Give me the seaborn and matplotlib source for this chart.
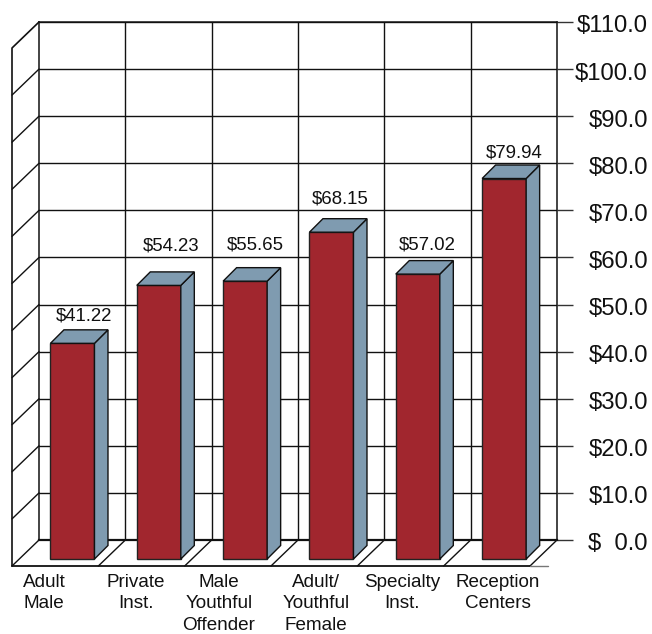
import pandas as pd
import seaborn as sns
import matplotlib.pyplot as plt
from matplotlib.patches import Polygon
from matplotlib.transforms import Affine2D

categories = ['Adult\nMale', 'Private\nInst.', 'Male\nYouthful\nOffender',
              'Adult/\nYouthful\nFemale', 'Specialty\nInst.', 'Reception\nCenters']
bar_heights = [45.8, 58.1, 59.0, 69.4, 60.5, 80.8]
value_labels = ['$41.22', '$54.23', '$55.65', '$68.15', '$57.02', '$79.94']
y_ticks = [0, 10, 20, 30, 40, 50, 60, 70, 80, 90, 100, 110]
y_tick_labels = ['$  0.0', '$10.0', '$20.0', '$30.0', '$40.0', '$50.0',
                 '$60.0', '$70.0', '$80.0', '$90.0', '$100.0', '$110.0']

# layout, in pixels (dpi is 100)
W, H = 652, 634
LEFT, RIGHT, TOP, BOTTOM = 39, 557, 22, 540
label_nudge = [-38, -33, -36, -25, -25, -16]   # category labels are not evenly spaced
value_rise = [14, 26, 23, 20, 16, 12]          # gap from back of bar top to label centre
value_shift = [5, 6, 3, 2, 3, 3]               # sideways offset of the value labels

sns.set_style('white')
plt.rcParams['font.family'] = ['Liberation Sans', 'DejaVu Sans']

df = pd.DataFrame({'category': categories, 'height': bar_heights})

fig = plt.figure(figsize=(W / 100, H / 100), dpi=100)
ax = fig.add_axes([LEFT / W, 1 - BOTTOM / H, (RIGHT - LEFT) / W, (BOTTOM - TOP) / H])

sns.barplot(data=df, x='category', y='height', width=0.51, color='#A1262E', saturation=1,
            edgecolor='#222222', linewidth=1, ax=ax)
ax.set_xlim(-0.5, 5.5)
ax.set_ylim(0, 110)
ax.set_xlabel('')
ax.set_ylabel('')

# pixel sizes in data units
px = 6 / (RIGHT - LEFT)
py = 110 / (BOTTOM - TOP)
wall_dx, wall_dy = 27 * px, 26 * py     # floor depth
shift_x, shift_y = 9.7 * px, 19 * py    # bar front plane
depth_x, depth_y = 13.5 * px, 13.5 * py # bar depth

# back wall grid
ax.set_axisbelow(True)
ax.set_xticks([0.5, 1.5, 2.5, 3.5, 4.5], minor=True)
ax.set_yticks(y_ticks)
ax.set_yticklabels(y_tick_labels)
ax.grid(True, which='major', axis='y', color='#111111', linewidth=1)
ax.grid(True, which='minor', axis='x', color='#111111', linewidth=1)
ax.grid(False, which='major', axis='x')
ax.tick_params(axis='x', which='both', length=0)
for s in ax.spines.values():
    s.set_visible(True)
    s.set_color('#111111')
    s.set_linewidth(1.1)
ax.spines['bottom'].set_linewidth(1.6)

# side wall and floor
line = dict(color='#111111', lw=1, clip_on=False, zorder=0.6, solid_capstyle='round')
for y in y_ticks[1:-1]:
    ax.plot([-0.5, -0.5 - wall_dx], [y, y - wall_dy], **line)
for x in [-0.5, 0.5, 1.5, 2.5, 3.5, 4.5, 5.5]:
    ax.plot([x, x - wall_dx], [0, -wall_dy], **line)
ax.plot([-0.5, -0.5 - wall_dx, -0.5 - wall_dx], [110, 110 - wall_dy, -wall_dy],
        color='#111111', lw=1.2, clip_on=False, zorder=0.6)
ax.plot([-0.5 - wall_dx, 5.5 - wall_dx], [-wall_dy, -wall_dy],
        color='#111111', lw=1.3, clip_on=False, zorder=0.6)
ax.plot([5.5 - wall_dx, 5.5 - wall_dx + 18 * px], [-wall_dy, -wall_dy],
        color='#777777', lw=1, clip_on=False, zorder=0.6)

# extruded bars
for p, h, label, rise, nudge in zip(ax.patches, bar_heights, value_labels, value_rise, value_shift):
    p.set_x(p.get_x() - shift_x)
    p.set_y(-shift_y)
    p.set_clip_on(False)
    p.set_zorder(3)
    x0, x1 = p.get_x(), p.get_x() + p.get_width()
    y0, y1 = -shift_y, h - shift_y
    side = [(x1, y0), (x1 + depth_x, y0 + depth_y), (x1 + depth_x, y1 + depth_y), (x1, y1)]
    top = [(x0, y1), (x1, y1), (x1 + depth_x, y1 + depth_y), (x0 + depth_x, y1 + depth_y)]
    for verts in (side, top):
        ax.add_patch(Polygon(verts, closed=True, facecolor='#7F9BB0', edgecolor='#111111',
                             linewidth=1, zorder=3, clip_on=False))
    ax.annotate(label, xy=((x0 + x1) / 2 + depth_x / 2 + nudge * px, y1 + depth_y), xytext=(0, rise),
                textcoords='offset pixels', ha='center', va='center', fontsize=13.4,
                color='#111111', zorder=4)

# right hand axis
ax.tick_params(axis='y', which='major', left=False, labelleft=False, right=True, labelright=True,
               length=11.5, width=1, color='#333333', pad=54)
for t in ax.yaxis.get_major_ticks():
    t.label2.set_ha('right')
    t.label2.set_fontsize(17.2)
    t.label2.set_color('#111111')
    t.label2.set_transform(t.label2.get_transform() + Affine2D().translate(0, -2))

# category labels under the floor
ax.tick_params(axis='x', which='major', pad=24.5, labelsize=13.6, labelcolor='#111111')
for lab, dx in zip(ax.get_xticklabels(), label_nudge):
    lab.set_ha('center')
    lab.set_va('top')
    lab.set_linespacing(1.33)
    lab.set_transform(lab.get_transform() + Affine2D().translate(dx, 0))

fig.savefig('out.png', dpi=100)
